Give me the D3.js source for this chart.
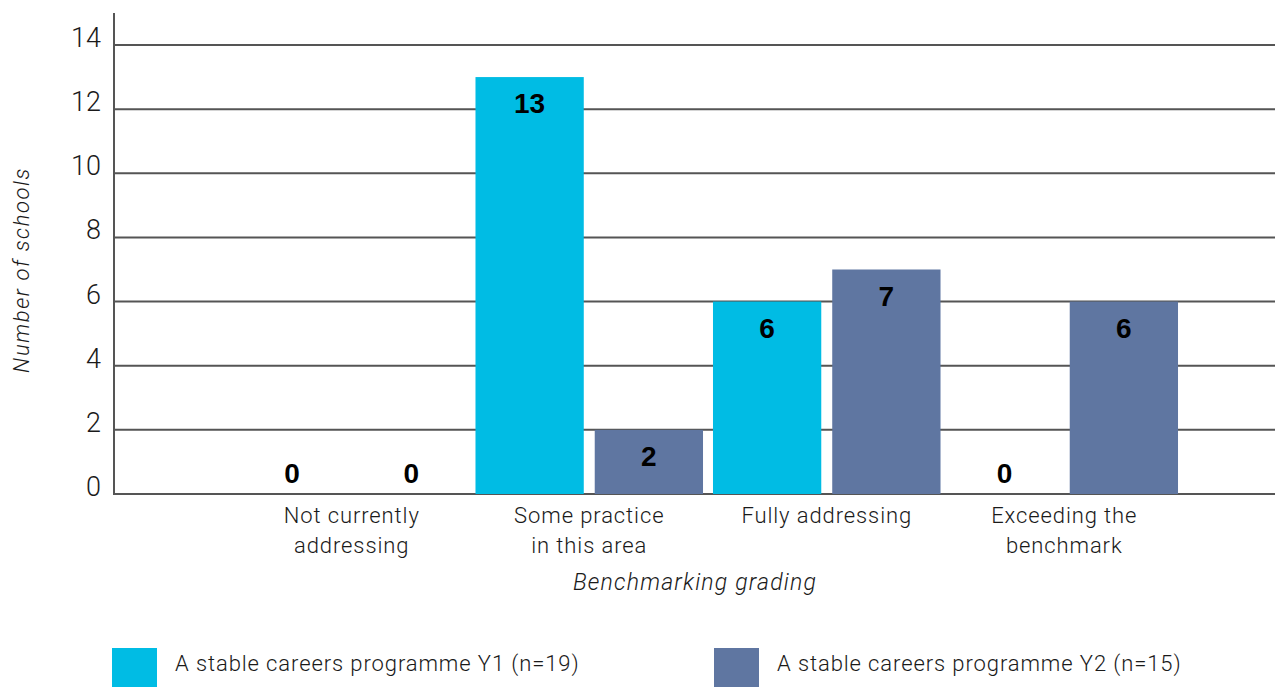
<!DOCTYPE html>
<html lang="en">
<head>
	<meta charset="utf-8">
	<script src="https://d3js.org/d3.v7.min.js"></script>
	<style type="text/css">
		body { margin: 0; background: #fff; }
		text { font-family: Roboto, "Liberation Sans", Arial, sans-serif; font-weight: 300; fill: #1a1a1a; letter-spacing: 0.9px; }
		.value { font-family: "Liberation Sans", Arial, sans-serif; font-weight: bold; fill: #000; letter-spacing: 0; }
		.tick { letter-spacing: 0; }
	</style>
	<title>Benchmarking grading</title>
</head>
<body>
	<script type="text/javascript">
		// data
		var categories = [["Not currently", "addressing"], ["Some practice", "in this area"], ["Fully addressing"], ["Exceeding the", "benchmark"]];
		var seriesNames = ["A stable careers programme Y1 (n=19)", "A stable careers programme Y2 (n=15)"];
		var y1Values = [0, 13, 6, 0];
		var y2Values = [0, 2, 7, 6];
		var yTicks = [0, 2, 4, 6, 8, 10, 12, 14];
		var colors = ["#00bce4", "#5f76a1"];

		var w = 1275;
		var h = 687;

		var svg = d3.select("body")
			.append("svg")
			.attr("width", w)
			.attr("height", h);

		var keys = categories.map(function(c, i) { return "c" + i; });

		//scales
		var y = d3.scaleLinear().domain([0, 14]).range([494, 45]);
		var x0 = d3.scaleBand().domain(keys).range([233, 1183]).paddingInner(0.042).paddingOuter(0.021);
		var x1 = d3.scaleBand().domain([0, 1]).range([0, x0.bandwidth()]).paddingInner(0.092);

		//gridlines
		svg.selectAll("line.grid")
			.data(yTicks)
			.enter()
			.append("line")
			.attr("class", "grid")
			.attr("x1", 113)
			.attr("x2", w)
			.attr("y1", function(d) { return y(d); })
			.attr("y2", function(d) { return y(d); })
			.style("stroke", "#555")
			.style("stroke-width", 2);

		//y axis line
		svg.append("line")
			.attr("x1", 114).attr("x2", 114)
			.attr("y1", y(15)).attr("y2", y(0) + 1)
			.style("stroke", "#555")
			.style("stroke-width", 2);

		//tick labels
		svg.selectAll("text.tick")
			.data(yTicks)
			.enter()
			.append("text")
			.attr("class", "tick")
			.attr("x", 101)
			.attr("y", function(d) { return y(d) + 2; })
			.attr("text-anchor", "end")
			.style("font-size", "27px")
			.text(function(d) { return d; });

		//bars
		var rows = keys.map(function(k, i) { return { key: k, vals: [y1Values[i], y2Values[i]] }; });

		var groups = svg.selectAll("g.group")
			.data(rows)
			.enter()
			.append("g")
			.attr("class", "group")
			.attr("transform", function(d) { return "translate(" + x0(d.key) + ",0)"; });

		groups.selectAll("rect")
			.data(function(d) { return d.vals; })
			.enter()
			.append("rect")
			.attr("x", function(d, i) { return x1(i); })
			.attr("width", x1.bandwidth())
			.attr("y", function(d) { return y(d); })
			.attr("height", function(d) { return y(0) - y(d); })
			.style("fill", function(d, i) { return colors[i]; });

		groups.selectAll("text.value")
			.data(function(d) { return d.vals; })
			.enter()
			.append("text")
			.attr("class", "value")
			.attr("x", function(d, i) { return x1(i) + x1.bandwidth() / 2; })
			.attr("y", function(d) { return d === 0 ? y(0) - 11 : y(d) + 36; })
			.attr("text-anchor", "middle")
			.style("font-size", "28px")
			.text(function(d) { return d; });

		//category labels
		var catLabels = svg.selectAll("text.cat")
			.data(rows)
			.enter()
			.append("text")
			.attr("class", "cat")
			.attr("text-anchor", "middle")
			.attr("x", function(d) { return x0(d.key) + x0.bandwidth() / 2; })
			.attr("y", 523)
			.style("font-size", "22px");

		catLabels.selectAll("tspan")
			.data(function(d, i) { return categories[i]; })
			.enter()
			.append("tspan")
			.attr("x", function() { var p = d3.select(this.parentNode).datum(); return x0(p.key) + x0.bandwidth() / 2; })
			.attr("dy", function(d, i) { return i === 0 ? 0 : 30; })
			.text(function(d) { return d; });

		//axis titles
		svg.append("text")
			.attr("x", 695)
			.attr("y", 590)
			.attr("text-anchor", "middle")
			.style("font-size", "23px")
			.style("letter-spacing", "1.2px")
			.style("font-style", "italic")
			.text("Benchmarking grading");

		svg.append("text")
			.attr("transform", "translate(29,270) rotate(-90)")
			.attr("text-anchor", "middle")
			.style("font-size", "22px")
			.style("letter-spacing", "1.6px")
			.style("font-style", "italic")
			.text("Number of schools");

		//legend
		var legendX = [112, 714];
		var legend = svg.selectAll("g.legend")
			.data(seriesNames)
			.enter()
			.append("g")
			.attr("class", "legend")
			.attr("transform", function(d, i) { return "translate(" + legendX[i] + ",648)"; });

		legend.append("rect")
			.attr("width", 45)
			.attr("height", 45)
			.style("fill", function(d, i) { return colors[i]; });

		legend.append("text")
			.attr("x", 63)
			.attr("y", 23)
			.style("font-size", "22px")
			.text(function(d) { return d; });
	</script>
</body>
</html>
